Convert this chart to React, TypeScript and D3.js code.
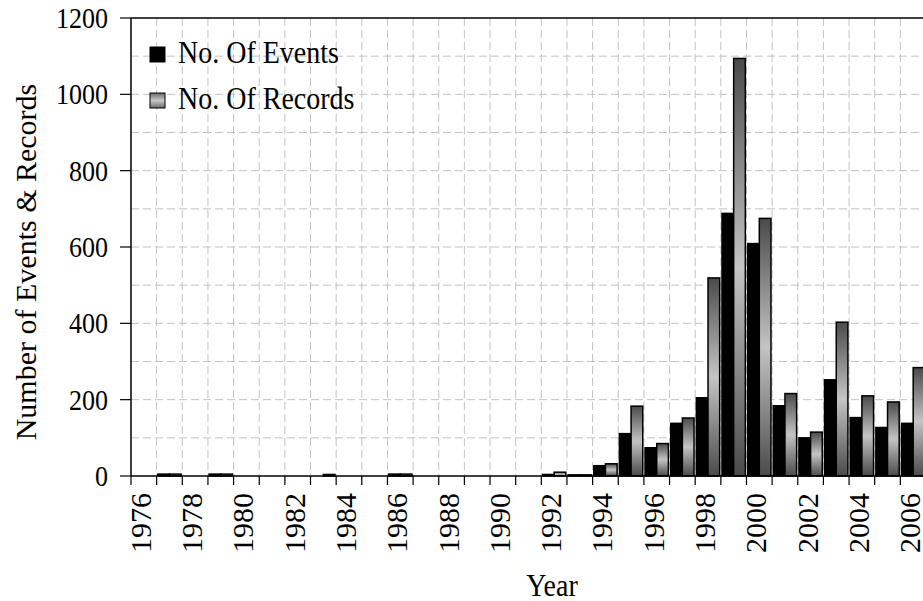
import React from "react";
import * as d3 from "d3";

const years: number[] = d3.range(1976, 2007);
const events: number[] = [
  0, 5, 0, 5, 0, 0, 0, 0, 0, 0, 5, 0, 0, 0, 0, 0,
  4, 3, 27, 111, 74, 138, 205, 688, 609, 184, 100, 252, 153, 127, 138,
];
const records: number[] = [
  0, 5, 0, 5, 0, 0, 0, 4, 0, 0, 5, 0, 0, 0, 0, 0,
  10, 3, 32, 183, 85, 152, 519, 1094, 675, 216, 115, 403, 210, 194, 284,
];
const seriesNames: string[] = ["No. Of Events", "No. Of Records"];
const yTicks: number[] = d3.range(0, 1201, 200);
const yGrid: number[] = d3.range(100, 1200, 100);

const W = 923;
const H = 601;
const left = 131;
const right = 926;
const top = 18;
const bottom = 476;
const FONT = "'Liberation Serif', 'Times New Roman', Times, serif";

export default function App() {
  const x = d3
    .scaleBand<number>()
    .domain(years)
    .range([left, right])
    .paddingInner(0.09)
    .paddingOuter(0.045);
  const step = x.step();
  const first = (x(years[0]) as number) - step * 0.045;
  const boundaries = d3.range(0, years.length + 1).map((i) => first + i * step);
  const inner = d3.scaleBand<number>().domain([0, 1]).range([0, x.bandwidth()]).padding(0);
  const y = d3.scaleLinear().domain([0, 1200]).range([bottom, top]);
  const grid = "#c2c2c2";

  return (
    <svg
      width={W}
      height={H}
      style={{ position: "absolute", left: 0, top: 0, background: "#fff" }}
      fontFamily={FONT}
    >
      <defs>
        <linearGradient id="recGrad" x1="0" y1="0" x2="0" y2="1">
          <stop offset="0" stopColor="#4a4a4a" />
          <stop offset="0.5" stopColor="#c4c4c4" />
          <stop offset="1" stopColor="#4a4a4a" />
        </linearGradient>
        <linearGradient id="legGrad" x1="0" y1="0" x2="0" y2="1">
          <stop offset="0" stopColor="#6a6a6a" />
          <stop offset="0.5" stopColor="#c8c8c8" />
          <stop offset="1" stopColor="#6a6a6a" />
        </linearGradient>
      </defs>
      <rect x={0} y={0} width={W} height={H} fill="#fff" />
      {/* grid */}
      {yGrid.map((v) => (
        <line key={"hg" + v} x1={left} x2={right + 30} y1={y(v)} y2={y(v)} stroke={grid} strokeWidth={1} strokeDasharray="8,4" />
      ))}
      {boundaries.slice(1).map((bx, i) => (
        <line key={"vg" + i} x1={bx} x2={bx} y1={top} y2={bottom} stroke={grid} strokeWidth={1} strokeDasharray="8,4" />
      ))}
      {/* bars */}
      {years.map((yr, i) => {
        const bx = x(yr) as number;
        const bw = inner.bandwidth();
        return (
          <g key={"b" + yr}>
            {events[i] > 0 && (
              <rect x={bx + (inner(0) as number)} y={y(events[i])} width={bw} height={bottom - y(events[i])} fill="#000" stroke="#000" strokeWidth={1.5} />
            )}
            {records[i] > 0 && (
              <rect x={bx + (inner(1) as number)} y={y(records[i])} width={bw} height={bottom - y(records[i])} fill="url(#recGrad)" stroke="#000" strokeWidth={1.5} />
            )}
          </g>
        );
      })}
      {/* axes */}
      <line x1={left} x2={right + 30} y1={top} y2={top} stroke="#000" strokeWidth={1.5} />
      <line x1={left} x2={left} y1={top} y2={bottom} stroke="#000" strokeWidth={1.5} />
      <line x1={left} x2={right + 30} y1={bottom} y2={bottom} stroke="#000" strokeWidth={1.5} />
      {yTicks.map((v) => (
        <g key={"yt" + v}>
          <line x1={120} x2={left} y1={y(v)} y2={y(v)} stroke="#000" strokeWidth={1.2} />
          <text
            transform={`translate(108,${y(v) + 10}) scale(1,1.16)`}
            textAnchor="end"
            fontSize={26}
            fill="#000"
          >
            {v}
          </text>
        </g>
      ))}
      {boundaries.map((bx, i) => (
        <line key={"xt" + i} x1={bx} x2={bx} y1={bottom} y2={bottom + 9} stroke="#000" strokeWidth={1.2} />
      ))}
      {years
        .filter((yr) => (yr - 1976) % 2 === 0)
        .map((yr) => {
          const cx = (x(yr) as number) + x.bandwidth() / 2;
          return (
            <text
              key={"xl" + yr}
              transform={`translate(${cx + 7},${bottom + 17}) rotate(-90)`}
              textAnchor="end"
              fontSize={30}
              fill="#000"
            >
              {yr}
            </text>
          );
        })}
      {/* titles */}
      <text transform="translate(552,596) scale(1,1.1)" textAnchor="middle" fontSize={28} fill="#000">
        Year
      </text>
      <text transform={`translate(36,262) rotate(-90)`} textAnchor="middle" fontSize={30} fill="#000">
        Number of Events &amp; Records
      </text>
      {/* legend */}
      <rect x={150} y={47} width={15} height={15} fill="#000" stroke="#000" strokeWidth={1} />
      <text transform="translate(178,63) scale(1,1.12)" fontSize={28} fill="#000">
        {seriesNames[0]}
      </text>
      <rect x={150} y={93} width={15} height={15} fill="url(#legGrad)" stroke="#000" strokeWidth={1} />
      <text transform="translate(178,109) scale(1,1.12)" fontSize={28} fill="#000">
        {seriesNames[1]}
      </text>
    </svg>
  );
}
